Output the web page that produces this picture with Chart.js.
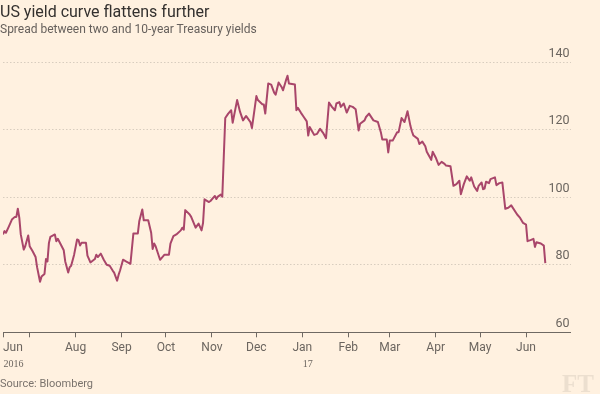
<!DOCTYPE html>
<html>
<head>
<meta charset="utf-8">
<script src="https://cdn.jsdelivr.net/npm/chart.js@4"></script>
<style>
  body { margin: 0; background: #fff1e0; }
  #wrap { position: relative; width: 600px; height: 394px; overflow: hidden; background: #fff1e0; font-family: Roboto, "Noto Sans", sans-serif; }
  #c { position: absolute; left: 0; top: 0; }
  .title { position: absolute; left: 0; top: 2px; font-size: 16px; line-height: 20px; color: #33302e; white-space: nowrap; }
  .subtitle { position: absolute; left: 0; top: 22px; font-size: 12px; line-height: 14px; color: #66605c; white-space: nowrap; }
  .source { position: absolute; left: 0; top: 377px; font-size: 11px; line-height: 13px; color: #7a736d; white-space: nowrap; }
  .logo { position: absolute; right: 6px; top: 370px; font-family: "Liberation Serif", serif; font-weight: bold; font-size: 25px; line-height: 28px; color: #ecdfcf; }
</style>
</head>
<body>
<div id="wrap">
  <canvas id="c" width="600" height="394"></canvas>
  <div class="title">US yield curve flattens further</div>
  <div class="subtitle">Spread between two and 10-year Treasury yields</div>
  <div class="source">Source: Bloomberg</div>
  <div class="logo">FT</div>
</div>
<script>
// spread between 2yr and 10yr yields, basis points
// x = days since the start of the axis (13 Jun 2016)
const startDate = '2016-06-13';
const days = [0,1,2,4,6,8,9,10,11,12,14,15,17,18,20,22,23,25,26,28,29,30,31,32,35,36,37,39,41,42,44,45,46,48,50,51,52,53,56,57,59,62,63,64,66,68,70,72,74,75,77,78,79,81,83,86,88,91,92,94,95,98,100,101,102,103,106,107,109,112,113,115,117,120,121,122,123,126,127,130,132,134,135,136,139,140,143,144,145,147,148,149,150,152,154,155,158,160,162,164,167,168,171,172,175,176,177,179,181,183,184,186,188,189,191,192,193,197,198,199,201,203,205,206,207,209,210,212,214,216,218,220,222,224,225,227,228,230,232,234,236,238,240,241,244,245,247,250,253,255,256,259,260,261,263,266,267,269,271,273,275,276,277,280,281,283,285,286,289,290,292,294,296,298,299,302,304,306,308,309,311,313,315,316,318,320,321,323,324,325,326,328,329,332,333,335,337,339,341,343,347,349,351,353,354,356,358,359,360,363,365,366];
const spread = [89,90,89.5,91.4,93.4,94.2,94.2,96.6,94,89,84.5,85.5,88.7,85.5,84,82.3,79.3,75,76.5,77.3,81.7,81,86.5,88.3,89,87,87.7,86,84.3,81,77.7,79.3,79.7,83,87.5,87.3,85.7,86.5,86.5,82.7,80.7,81.7,83,82.3,83.3,81.5,80,79.7,78.3,77.7,75.3,77,78.3,81.5,81,80.3,89.3,89.3,93,96.4,93.2,93.2,89.5,84.7,86.3,85.5,81.5,82,83,83,86.3,88.5,89,90.2,91,90.4,96.2,94.9,94.2,91,92.2,90.2,92.4,99.4,98.6,98.9,100.4,99.5,100.2,100.8,100.2,112,123.5,124.8,125.8,122.1,128.8,125.3,122.8,124.1,122.3,120.5,130,128.8,127.6,127.5,124.8,133.7,133.4,131,130.4,134,132.7,131.7,134.7,136,133.7,133.4,125.8,126.5,125.1,123.8,122.5,118.3,120.8,119.3,118.5,118.8,120.3,119.1,117.5,128.1,126.8,125.8,127.8,128.2,126.8,127.8,125.1,127.1,126.8,126.1,119.8,121.8,122.8,123.8,124.8,122.8,122.3,119.3,117.1,117.1,113.3,116.8,116.8,119.3,119.3,123.5,122.3,125.5,121.1,119.5,118.3,117.3,115.8,116.5,115.1,113.5,111.1,113.5,111.8,109.6,110.5,109.9,109.4,109.2,103.4,103.9,104.9,100.9,103.9,106.2,104.9,105.9,103.2,101.9,103.4,104.4,102.4,102.6,104.6,104.2,105.4,105.9,103.6,104.2,104.4,96.6,96.9,97.6,94.9,93.9,92.4,91.9,87,87.3,87.7,85.3,86.7,86.3,85.7,80.5];

const tickDates = ['2016-06-13','2016-07-01','2016-08-01','2016-09-01','2016-10-01','2016-11-01','2016-12-01','2017-01-01','2017-02-01','2017-03-01','2017-04-01','2017-05-01','2017-06-01','2017-07-01'];
const monthLabels = ['Jun','','Aug','Sep','Oct','Nov','Dec','Jan','Feb','Mar','Apr','May','Jun',''];
const yearLabels = [['2016-06-13','2016'], ['2017-01-01','17']];
const yMin = 60, yMax = 140, yStep = 20;

const dayOf = s => Math.round((Date.parse(s) - Date.parse(startDate)) / 86400000);
const tickDays = tickDates.map(dayOf);

const axisColor = '#6f6963';
const textColor = '#6b655f';

const yearPlugin = {
  id: 'years',
  afterDraw(chart) {
    const ctx = chart.ctx, x = chart.scales.x;
    ctx.save();
    ctx.font = '10px "Liberation Serif", serif';
    ctx.fillStyle = textColor;
    ctx.textAlign = 'left';
    ctx.textBaseline = 'alphabetic';
    yearLabels.forEach(([d, t]) => {
      ctx.fillText(t, x.getPixelForValue(dayOf(d)) + 0.5, 366.7);
    });
    ctx.restore();
  }
};

new Chart(document.getElementById('c'), {
  type: 'line',
  data: {
    datasets: [{
      data: days.map((d, i) => ({ x: d, y: spread[i] })),
      borderColor: '#a9466a',
      borderWidth: 2,
      pointRadius: 0,
      tension: 0,
      borderJoinStyle: 'round',
      fill: false
    }]
  },
  options: {
    responsive: false,
    animation: false,
    layout: { padding: { top: 62.3, right: 29.5, bottom: 32, left: 0 } },
    plugins: { legend: { display: false }, tooltip: { enabled: false } },
    scales: {
      x: {
        type: 'linear',
        min: tickDays[0],
        max: tickDays[tickDays.length - 1],
        afterBuildTicks: s => { s.ticks = tickDays.map(v => ({ value: v })); },
        afterFit: s => { s.height = 29.7; },
        border: { display: true, color: axisColor, width: 1 },
        grid: {
          drawOnChartArea: false,
          drawTicks: true,
          tickLength: 5,
          tickColor: c => c.index === tickDays.length - 1 ? 'rgba(0,0,0,0)' : axisColor
        },
        ticks: {
          autoSkip: false,
          maxRotation: 0,
          align: 'inner',
          padding: 3,
          color: textColor,
          font: { family: 'Roboto', size: 12 },
          callback: (v, i) => monthLabels[i]
        }
      },
      y: {
        position: 'right',
        min: yMin,
        max: yMax,
        afterFit: s => { s.width = 0; },
        border: { display: false, dash: [1.5, 2] },
        grid: { color: '#d8cdbf', drawTicks: false, borderDash: [1.5, 2] },
        ticks: {
          stepSize: yStep,
          mirror: true,
          padding: -1,
          labelOffset: -8.5,
          color: textColor,
          font: { family: 'Roboto', size: 12.5 }
        }
      }
    }
  },
  plugins: [yearPlugin]
});
</script>
</body>
</html>
